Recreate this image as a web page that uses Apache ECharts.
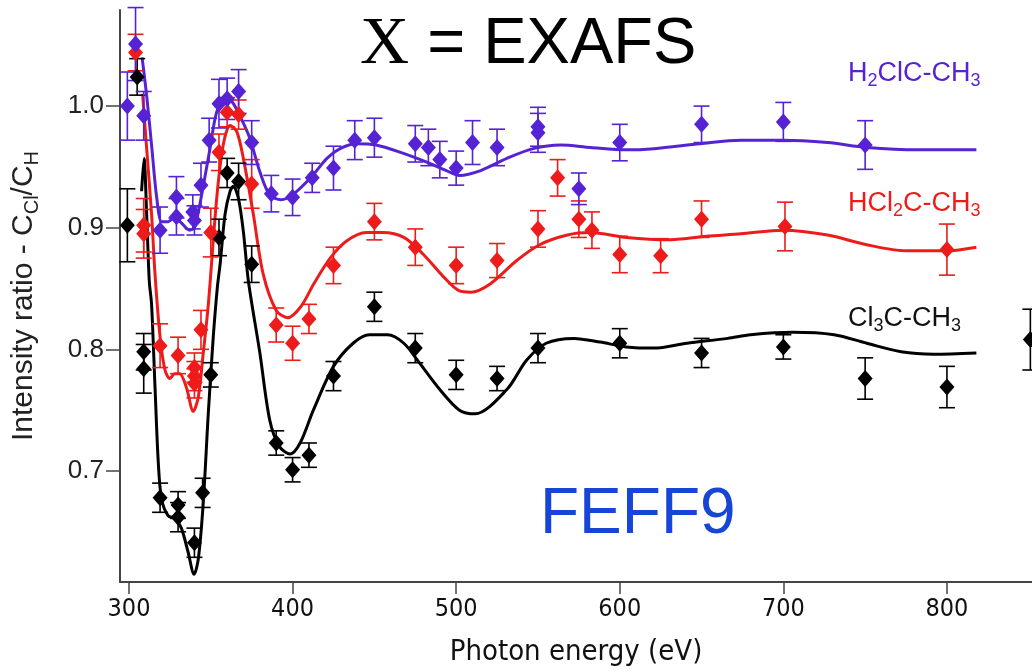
<!DOCTYPE html>
<html>
<head>
<meta charset="UTF-8">
<style>
  html, body { margin: 0; padding: 0; background: #fff; }
  #chart { width: 1032px; height: 672px; }
</style>
</head>
<body>
<div id="chart"></div>
<script src="https://cdn.jsdelivr.net/npm/echarts@6/dist/echarts.min.js"></script>
<script>
// tick labels
var xTicks = [300, 400, 500, 600, 700, 800];
var yTicks = [0.7, 0.8, 0.9, 1.0];

// H2ClC-CH3 measured points
var purpleX = [299, 304, 309, 319, 329, 329, 339, 340, 344, 349, 355, 360, 367, 375, 387, 400, 412, 425, 438, 450, 475, 483, 490, 500, 510, 525, 550, 550, 575, 600, 650, 700, 750];
var purpleY = [1.000, 1.051, 0.992, 0.898, 0.925, 0.909, 0.913, 0.906, 0.935, 0.972, 1.002, 1.006, 1.012, 0.970, 0.928, 0.925, 0.941, 0.949, 0.972, 0.974, 0.969, 0.966, 0.956, 0.949, 0.970, 0.966, 0.983, 0.978, 0.932, 0.970, 0.985, 0.987, 0.968];
var purpleErr = [0.028, 0.03, 0.02, 0.019, 0.017, 0.015, 0.014, 0.012, 0.018, 0.018, 0.02, 0.017, 0.018, 0.018, 0.015, 0.015, 0.012, 0.018, 0.016, 0.016, 0.015, 0.015, 0.015, 0.014, 0.018, 0.015, 0.016, 0.016, 0.013, 0.015, 0.015, 0.016, 0.02];

// HCl2C-CH3 measured points
var redX = [304, 309, 309, 319, 330, 340, 340, 340, 344, 350, 355, 360, 367, 375, 390, 400, 410, 425, 450, 475, 500, 525, 550, 562, 575, 583, 600, 625, 650, 701, 800];
var redY = [1.044, 0.902, 0.895, 0.803, 0.795, 0.785, 0.778, 0.772, 0.816, 0.896, 0.962, 0.995, 0.993, 0.936, 0.820, 0.805, 0.825, 0.869, 0.905, 0.884, 0.869, 0.873, 0.899, 0.941, 0.907, 0.898, 0.878, 0.877, 0.907, 0.901, 0.882];
var redErr = [0.015, 0.022, 0.02, 0.018, 0.015, 0.012, 0.012, 0.012, 0.016, 0.02, 0.015, 0.012, 0.012, 0.02, 0.014, 0.014, 0.012, 0.015, 0.015, 0.015, 0.015, 0.014, 0.015, 0.015, 0.015, 0.015, 0.015, 0.014, 0.015, 0.02, 0.021];

// Cl3C-CH3 measured points
var blackX = [299, 305, 309, 309, 319, 330, 330, 340, 345, 350, 355, 360, 367, 375, 390, 400, 410, 425, 450, 475, 500, 525, 550, 600, 650, 700, 750, 800, 851];
var blackY = [0.902, 1.024, 0.798, 0.784, 0.678, 0.672, 0.662, 0.641, 0.682, 0.779, 0.892, 0.945, 0.938, 0.870, 0.723, 0.701, 0.713, 0.778, 0.835, 0.801, 0.779, 0.776, 0.801, 0.805, 0.797, 0.802, 0.776, 0.769, 0.808];
var blackErr = [0.03, 0.015, 0.015, 0.02, 0.012, 0.011, 0.012, 0.012, 0.012, 0.01, 0.015, 0.012, 0.015, 0.015, 0.01, 0.01, 0.01, 0.012, 0.012, 0.012, 0.012, 0.01, 0.012, 0.012, 0.012, 0.01, 0.017, 0.017, 0.025];

// FEFF9 fit curves
var purpleFitX = [308, 311, 314, 317, 320, 324, 328, 332, 337, 340, 344, 349.5, 353.6, 358.7, 362.8, 368.8, 374, 380, 386, 393, 400, 411, 421, 429, 439, 451, 466, 482, 494, 502, 515, 531, 547, 564, 582, 604, 621, 649, 674, 700, 727, 751, 782, 818];
var purpleFitY = [1.040, 1.006, 0.965, 0.924, 0.905, 0.905, 0.909, 0.904, 0.898, 0.900, 0.924, 0.965, 0.995, 1.006, 1.004, 0.989, 0.973, 0.946, 0.927, 0.923, 0.927, 0.941, 0.957, 0.965, 0.969, 0.968, 0.962, 0.954, 0.947, 0.943, 0.947, 0.957, 0.965, 0.968, 0.966, 0.964, 0.965, 0.969, 0.972, 0.972, 0.970, 0.966, 0.964, 0.964];

var redFitX = [308.3, 310.8, 313.8, 315.9, 319, 322, 325, 328, 331, 335, 339.3, 342.4, 345.4, 348.5, 353.6, 357.6, 361.8, 365.9, 369.9, 376, 382, 390, 397, 405, 413, 423, 433, 445, 455, 468, 480, 492, 502, 509, 521, 537, 551, 568, 582, 604, 629, 653, 674, 700, 727, 751, 775, 800, 818];
var redFitY = [1.010, 0.965, 0.911, 0.862, 0.810, 0.783, 0.776, 0.780, 0.780, 0.769, 0.749, 0.761, 0.797, 0.837, 0.924, 0.968, 0.984, 0.979, 0.957, 0.911, 0.862, 0.832, 0.826, 0.835, 0.854, 0.875, 0.889, 0.896, 0.896, 0.892, 0.878, 0.860, 0.848, 0.847, 0.854, 0.873, 0.886, 0.894, 0.896, 0.892, 0.890, 0.893, 0.895, 0.898, 0.894, 0.886, 0.881, 0.881, 0.884];

var blackFitX = [307.7, 309.2, 310.8, 312.4, 313.8, 315.9, 317.9, 319.9, 324, 328, 332, 336, 339.8, 342.4, 345.4, 348.5, 351.5, 354, 355.7, 358.7, 361.8, 363.8, 366.9, 369.9, 373, 380, 386, 392, 398.5, 404.6, 412.7, 425, 437, 447, 458, 468, 478, 490, 502, 511.6, 531, 543, 555, 572, 588, 604, 621, 641, 666, 680, 706, 731, 751, 772, 792, 818];
var blackFitY = [0.930, 0.957, 0.911, 0.856, 0.837, 0.769, 0.707, 0.677, 0.663, 0.661, 0.653, 0.634, 0.615, 0.628, 0.674, 0.748, 0.810, 0.851, 0.870, 0.911, 0.930, 0.934, 0.924, 0.897, 0.856, 0.797, 0.742, 0.720, 0.714, 0.723, 0.750, 0.786, 0.805, 0.812, 0.812, 0.805, 0.788, 0.767, 0.750, 0.747, 0.767, 0.791, 0.805, 0.809, 0.806, 0.802, 0.801, 0.805, 0.809, 0.812, 0.814, 0.812, 0.805, 0.798, 0.796, 0.797];

var PURPLE = '#5522d4', RED = '#ee1b1b', BLACK = '#000000';

function zip(xs, ys) {
    var out = [];
    for (var i = 0; i < xs.length; i++) out.push([xs[i], ys[i]]);
    return out;
}
function errData(xs, ys, es) {
    var out = [];
    for (var i = 0; i < xs.length; i++) out.push([xs[i], ys[i] - es[i], ys[i] + es[i]]);
    return out;
}
function errRenderer(color) {
    return function (params, api) {
        var x = api.value(0);
        var lo = api.coord([x, api.value(1)]);
        var hi = api.coord([x, api.value(2)]);
        var w = 8;
        var st = { stroke: color, lineWidth: 1.6 };
        return {
            type: 'group',
            children: [
                { type: 'line', shape: { x1: lo[0], y1: lo[1], x2: hi[0], y2: hi[1] }, style: st },
                { type: 'line', shape: { x1: lo[0] - w, y1: lo[1], x2: lo[0] + w, y2: lo[1] }, style: st },
                { type: 'line', shape: { x1: hi[0] - w, y1: hi[1], x2: hi[0] + w, y2: hi[1] }, style: st }
            ]
        };
    };
}
function fitSeries(xs, ys, color) {
    return {
        type: 'line', data: zip(xs, ys), smooth: 0.3, showSymbol: false,
        lineStyle: { color: color, width: 3 }, z: 2
    };
}
function errSeries(xs, ys, es, color) {
    return {
        type: 'custom', data: errData(xs, ys, es), renderItem: errRenderer(color),
        encode: { x: 0, y: [1, 2] }, z: 3
    };
}
function pointSeries(xs, ys, color) {
    return {
        type: 'scatter', data: zip(xs, ys), symbol: 'diamond', symbolSize: [15, 17],
        itemStyle: { color: color, opacity: 1 }, z: 4
    };
}

var labelRich = function (color) {
    return {
        a: { fontFamily: 'Liberation Sans', fontSize: 27, lineHeight: 34, verticalAlign: 'middle', fill: color },
        s: { fontFamily: 'Liberation Sans', fontSize: 18, lineHeight: 18, verticalAlign: 'bottom', fill: color }
    };
};

var chart = echarts.init(document.getElementById('chart'));
chart.setOption({
    animation: false,
    backgroundColor: '#fff',
    grid: { left: 120, right: 0, top: 10, bottom: 84 },
    xAxis: {
        type: 'value', min: 294.5, max: 852,
        name: 'Photon energy (eV)', nameLocation: 'middle', nameGap: 56,
        nameTextStyle: { fontFamily: 'DejaVu Sans Condensed', fontSize: 29, color: '#111' },
        axisLine: { lineStyle: { color: '#444', width: 2 } },
        axisTick: { customValues: xTicks, length: 12, lineStyle: { color: '#444', width: 1.5 } },
        axisLabel: { customValues: xTicks, margin: 15, fontFamily: 'DejaVu Sans Condensed', fontSize: 25, color: '#111' },
        splitLine: { show: false }
    },
    yAxis: {
        type: 'value', min: 0.6087, max: 1.079,
        name: '{a|Intensity ratio - C}{s|Cl}{a|/C}{s|H}', nameLocation: 'middle', nameGap: 78, nameRotate: 90,
        nameTextStyle: {
            rich: {
                a: { fontFamily: 'Liberation Sans', fontSize: 30, lineHeight: 36, verticalAlign: 'middle', color: '#222' },
                s: { fontFamily: 'Liberation Sans', fontSize: 20, lineHeight: 20, verticalAlign: 'bottom', color: '#222' }
            }
        },
        axisLine: { show: true, lineStyle: { color: '#444', width: 2 } },
        axisTick: { show: true, customValues: yTicks, length: 14, lineStyle: { color: '#444', width: 1.5 } },
        axisLabel: {
            customValues: yTicks, margin: 16, fontFamily: 'Liberation Sans', fontSize: 26, color: '#222',
            formatter: function (v) { return v.toFixed(1); }
        },
        splitLine: { show: false }
    },
    graphic: [
        {
            type: 'text', left: 360, top: 11,
            style: {
                text: '{x|X}{e| = EXAFS}',
                rich: {
                    x: { fontFamily: 'Liberation Serif', fontSize: 68, fill: '#000' },
                    e: { fontFamily: 'Liberation Sans', fontSize: 65, fill: '#000' }
                }
            }
        },
        {
            type: 'text', left: 540, top: 483,
            style: { text: 'FEFF9', fontFamily: 'Liberation Sans', fontSize: 64, fill: '#1746d6' }
        },
        {
            type: 'text', left: 848, top: 60,
            style: { text: '{a|H}{s|2}{a|ClC-CH}{s|3}', rich: labelRich(PURPLE) }
        },
        {
            type: 'text', left: 848, top: 190,
            style: { text: '{a|HCl}{s|2}{a|C-CH}{s|3}', rich: labelRich(RED) }
        },
        {
            type: 'text', left: 848, top: 305,
            style: { text: '{a|Cl}{s|3}{a|C-CH}{s|3}', rich: labelRich('#111') }
        }
    ],
    series: [
        fitSeries(blackFitX, blackFitY, BLACK),
        fitSeries(redFitX, redFitY, RED),
        fitSeries(purpleFitX, purpleFitY, PURPLE),
        errSeries(blackX, blackY, blackErr, BLACK),
        errSeries(redX, redY, redErr, RED),
        errSeries(purpleX, purpleY, purpleErr, PURPLE),
        pointSeries(blackX, blackY, BLACK),
        pointSeries(redX, redY, RED),
        pointSeries(purpleX, purpleY, PURPLE)
    ]
});
</script>
</body>
</html>
